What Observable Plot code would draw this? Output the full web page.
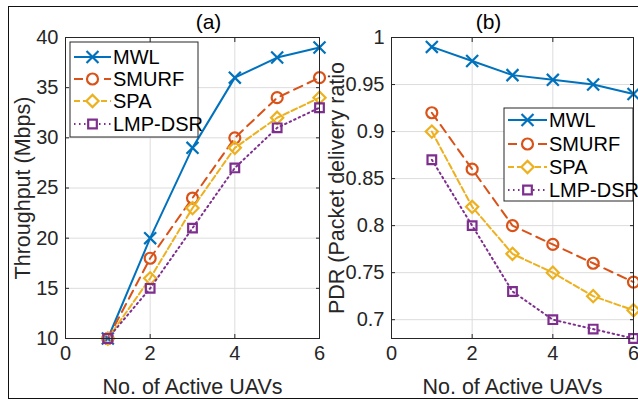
<!DOCTYPE html>
<html>
<head>
<meta charset="utf-8">
<script src="https://cdn.jsdelivr.net/npm/d3@7"></script>
<script src="https://cdn.jsdelivr.net/npm/@observablehq/plot@0.6"></script>
<style>
  html, body { margin: 0; padding: 0; background: #fff; overflow: hidden; }
  #wrap { position: relative; width: 638px; height: 400px; overflow: hidden; font-family: "Liberation Sans", Arial, sans-serif; }
  #wrap > svg, #wrap > figure { position: absolute; margin: 0; }
  #border { position: absolute; left: 8px; top: 6px; width: 700px; height: 393px; box-sizing: border-box; border: 1.5px solid #111; }
</style>
</head>
<body>
<div id="wrap"><div id="border"></div></div>
<script>
// ---- data ----
const uavs = [1, 2, 3, 4, 5, 6];
const seriesNames = ["MWL", "SMURF", "SPA", "LMP-DSR"];
const thrMWL   = [10, 20, 29, 36, 38, 39];
const thrSMURF = [10, 18, 24, 30, 34, 36];
const thrSPA   = [10, 16, 23, 29, 32, 34];
const thrLMP   = [10, 15, 21, 27, 31, 33];
const pdrMWL   = [0.99, 0.975, 0.96, 0.955, 0.95, 0.94];
const pdrSMURF = [0.92, 0.86, 0.80, 0.78, 0.76, 0.74];
const pdrSPA   = [0.90, 0.82, 0.77, 0.75, 0.725, 0.71];
const pdrLMP   = [0.87, 0.80, 0.73, 0.70, 0.69, 0.68];
const xTicks = [0, 2, 4, 6];
const thrTicks = [10, 15, 20, 25, 30, 35, 40];
const pdrTicks = [0.7, 0.75, 0.8, 0.85, 0.9, 0.95, 1];

// ---- styles ----
const colors = ["#0072BD", "#D95319", "#EDB120", "#7E2F8E"];
const dashes = [null, "9,6", "6,3", "1.5,3.5"];
const symbols = ["times", "circle", "diamond2", "square2"];
const d3symbols = [d3.symbolTimes, d3.symbolCircle, d3.symbolDiamond2, d3.symbolSquare2];
const R = 5.5;
const FONT = "Liberation Sans, Arial, sans-serif";
const INK = "#262626";

function rows(arrs) {
  const out = [];
  arrs.forEach((vals, i) => vals.forEach((v, j) => out.push({series: seriesNames[i], idx: i, x: uavs[j], y: v})));
  return out;
}
const thrRows = rows([thrMWL, thrSMURF, thrSPA, thrLMP]);
const pdrRows = rows([pdrMWL, pdrSMURF, pdrSPA, pdrLMP]);

const fmtX = d => String(d);

function panel({data, yDomain, yTicks, yFormat, width, marginLeft, marginRight, title, titleDx, ylabel, ylabelDx}) {
  const seriesMarks = [];
  seriesNames.forEach((name, i) => {
    const d = data.filter(r => r.idx === i);
    seriesMarks.push(Plot.line(d, {x: "x", y: "y", stroke: colors[i], strokeWidth: 2, strokeDasharray: dashes[i]}));
    seriesMarks.push(Plot.dot(d, {x: "x", y: "y", symbol: symbols[i], stroke: colors[i], strokeWidth: 2.2, r: R, fill: "none"}));
  });
  return Plot.plot({
    width, height: 400,
    marginLeft, marginRight, marginTop: 37, marginBottom: 62,
    style: {fontFamily: FONT, fontSize: "20px", color: INK, background: "transparent", overflow: "visible"},
    x: {domain: [0, 6], ticks: xTicks, label: null, tickFormat: fmtX},
    y: {domain: yDomain, ticks: yTicks, label: null, tickFormat: yFormat},
    marks: [
      Plot.gridX({ticks: xTicks, stroke: "#dcdcdc", strokeOpacity: 1}),
      Plot.gridY({ticks: yTicks, stroke: "#dcdcdc", strokeOpacity: 1}),
      Plot.axisX({ticks: xTicks, tickSize: 0, tickPadding: 7, fontSize: 20, fill: INK, tickFormat: fmtX}),
      Plot.axisY({ticks: yTicks, tickSize: 0, tickPadding: 7, fontSize: 20, fill: INK, tickFormat: yFormat}),
      Plot.axisX({ticks: xTicks, tickSize: -4, tickFormat: () => "", stroke: INK}),
      Plot.axisX({ticks: xTicks, anchor: "top", tickSize: -4, tickFormat: () => "", stroke: INK}),
      Plot.axisY({ticks: yTicks, tickSize: -4, tickFormat: () => "", stroke: INK}),
      Plot.axisY({ticks: yTicks, anchor: "right", tickSize: -4, tickFormat: () => "", stroke: INK}),
      ...seriesMarks,
      Plot.frame({stroke: INK, strokeWidth: 1}),
      Plot.text([title], {frameAnchor: "top", dx: titleDx, dy: -15, lineAnchor: "middle", fontSize: 21, fill: "#000"}),
      Plot.text(["No. of Active UAVs"], {frameAnchor: "bottom", dy: 49, lineAnchor: "middle", fontSize: 21.5, fill: INK}),
      Plot.text([ylabel], {frameAnchor: "left", dx: ylabelDx, rotate: -90, lineAnchor: "middle", textAnchor: "middle", fontSize: 21.5, fill: INK})
    ]
  });
}

const wrap = document.getElementById("wrap");
const fmtPdr = d => String(+d.toFixed(2));

const pa = panel({data: thrRows, yDomain: [10, 40], yTicks: thrTicks, yFormat: d => String(d),
  width: 320, marginLeft: 65, marginRight: 1, title: "(a)", titleDx: 16,
  ylabel: "Throughput (Mbps)", ylabelDx: -42});
pa.style.left = "0px"; pa.style.top = "0px";
wrap.appendChild(pa);

const pb = panel({data: pdrRows, yDomain: [0.68, 1], yTicks: pdrTicks, yFormat: fmtPdr,
  width: 318, marginLeft: 71, marginRight: 5, title: "(b)", titleDx: -24,
  ylabel: "PDR (Packet delivery ratio", ylabelDx: -54});
pb.style.left = "320px"; pb.style.top = "0px";
wrap.appendChild(pb);

// ---- legends ----
const ov = d3.select(wrap).append("svg")
  .attr("width", 638).attr("height", 400)
  .style("left", "0px").style("top", "0px").style("pointer-events", "none");

function legend({x0, y0, w, h, rowY, lineX0, lineX1, textX, fs}) {
  const g = ov.append("g");
  g.append("rect").attr("x", x0).attr("y", y0).attr("width", w).attr("height", h)
    .attr("fill", "#fff").attr("stroke", INK).attr("stroke-width", 1);
  seriesNames.forEach((name, i) => {
    const y = rowY[i];
    g.append("line").attr("x1", lineX0).attr("x2", lineX1).attr("y1", y).attr("y2", y)
      .attr("stroke", colors[i]).attr("stroke-width", 2).attr("stroke-dasharray", dashes[i]);
    g.append("path").attr("d", d3.symbol(d3symbols[i], Math.PI * R * R)())
      .attr("transform", `translate(${(lineX0 + lineX1) / 2},${y})`)
      .attr("fill", "#fff").attr("stroke", colors[i]).attr("stroke-width", 2.2);
    g.append("text").attr("x", textX).attr("y", y).attr("dy", "0.35em")
      .attr("font-family", FONT).attr("font-size", fs).attr("fill", "#000").text(name);
  });
}
legend({x0: 70, y0: 42, w: 128, h: 95, rowY: [57, 79, 101, 124], lineX0: 74, lineX1: 111, textX: 113, fs: 20});
legend({x0: 504, y0: 108, w: 129, h: 93, rowY: [120, 144, 167, 190], lineX0: 508, lineX1: 547, textX: 549, fs: 20});
</script>
</body>
</html>
